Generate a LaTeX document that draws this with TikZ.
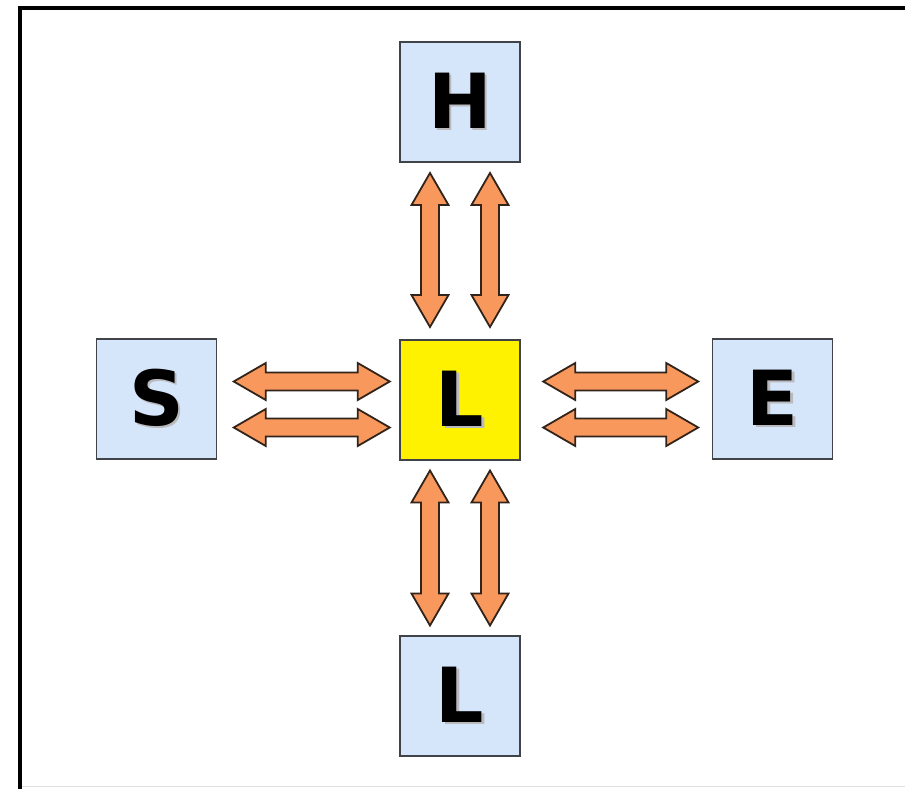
\documentclass[tikz,border=0pt]{standalone}
\usepackage{fontspec}
\setmainfont{DejaVu Sans}
\usetikzlibrary{calc}
\definecolor{boxblue}{RGB}{214,230,250}
\definecolor{boxedge}{RGB}{64,68,72}
\definecolor{arrowfill}{RGB}{248,152,92}
\definecolor{arrowedge}{RGB}{50,36,26}
\definecolor{shadowgray}{RGB}{185,185,190}
\newcommand{\lettershadow}[1]{\rlap{\hspace{2.5pt}\raisebox{-2.5pt}{\textcolor{shadowgray}{#1}}}#1}
\tikzset{
  letterbox/.style={draw=boxedge, line width=1.3pt, fill=boxblue,
    minimum size=120pt, inner sep=0pt,
    font=\fontsize{76}{80}\selectfont\bfseries},
  centerbox/.style={letterbox, fill=yellow},
  arrowbody/.style={draw=arrowedge, line width=1.8pt, fill=arrowfill, line join=miter},
  pics/dblarrow/.style={code={
    \pgfmathsetmacro\hl{#1/2}
    \draw[arrowbody] (-\hl,0) -- (-\hl+32,-18.5) -- (-\hl+32,-9) -- (\hl-32,-9)
      -- (\hl-32,-18.5) -- (\hl,0) -- (\hl-32,18.5) -- (\hl-32,9)
      -- (-\hl+32,9) -- (-\hl+32,18.5) -- cycle;
  }}
}
\begin{document}
\begin{tikzpicture}[x=1pt,y=-1pt]
  \useasboundingbox (0,0) rectangle (905,788);
  \fill[white] (0,0) rectangle (905,788);
  % frame
  \draw[gray!25, line width=1.5pt] (20,786.5) -- (905,786.5);
  \draw[black, line width=4pt] (20,790) -- (20,8) -- (910,8);

  % letter boxes
  \node[letterbox]  (H) at (460,102)   {\lettershadow{H}};
  \node[centerbox]  (C) at (460,400)   {\lettershadow{L}};
  \node[letterbox]  (S) at (156.5,399) {\lettershadow{S}};
  \node[letterbox]  (E) at (772.5,399) {\lettershadow{E}};
  \node[letterbox]  (B) at (460,696)   {\lettershadow{L}};

  % paired double arrows between the boxes
  \pic at ($(S.east)!0.5!(C.west)+(3.5,-18)$) {dblarrow=156};
  \pic at ($(S.east)!0.5!(C.west)+(3.5,28)$)  {dblarrow=156};
  \pic at ($(C.east)!0.5!(E.west)+(4.5,-18)$) {dblarrow=155};
  \pic at ($(C.east)!0.5!(E.west)+(4.5,28)$)  {dblarrow=155};
  \pic[rotate=90] at ($(H.south)!0.5!(C.north)+(-30,-1)$) {dblarrow=154};
  \pic[rotate=90] at ($(H.south)!0.5!(C.north)+(30,-1)$)  {dblarrow=154};
  \pic[rotate=90] at ($(C.south)!0.5!(B.north)+(-30,0)$)  {dblarrow=155};
  \pic[rotate=90] at ($(C.south)!0.5!(B.north)+(30,0)$)   {dblarrow=155};
\end{tikzpicture}
\end{document}
